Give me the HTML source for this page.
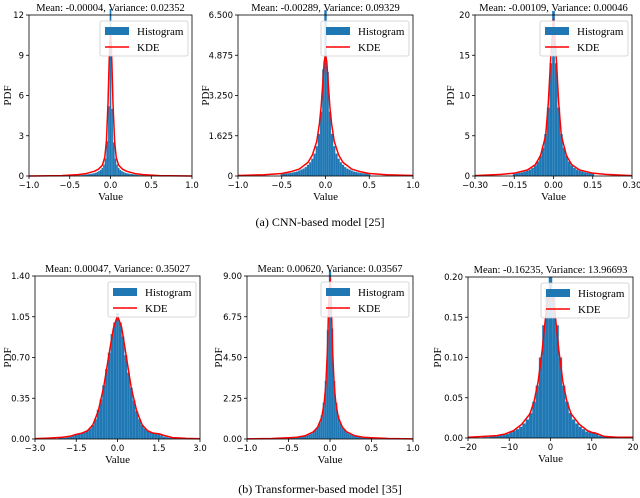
<!DOCTYPE html>
<html><head><meta charset="utf-8">
<style>
html,body{margin:0;padding:0;background:#fff;}
svg{display:block;}
text{font-family:"DejaVu Sans",sans-serif;}
.serif{font-family:"Liberation Serif",serif;}
</style></head>
<body>
<svg id="fig" width="640" height="498" viewBox="0 0 640 498" xmlns="http://www.w3.org/2000/svg">
<text class="serif" x="320" y="226" text-anchor="middle" font-size="12">(a)  CNN-based model [25]</text>
<text class="serif" x="320" y="493" text-anchor="middle" font-size="12">(b)  Transformer-based model [35]</text>
</svg>
<script>
// ---- Panel A1 (CNN, top-left) ----
const a1HistX=[-0.4,-0.38,-0.36,-0.34,-0.32,-0.3,-0.28,-0.26,-0.24,-0.22,-0.2,-0.18,-0.16,-0.14,-0.12,-0.1,-0.08,-0.06,-0.04,-0.02,0,0.02,0.04,0.06,0.08,0.1,0.12,0.14,0.16,0.18,0.2,0.22,0.24,0.26,0.28,0.3,0.32,0.34,0.36,0.38,0.4];
const a1HistY=[0.05,0.05,0.06,0.07,0.08,0.1,0.12,0.14,0.16,0.18,0.2,0.24,0.3,0.36,0.45,0.6,0.85,1.3,2.6,5.2,13,5.0,2.5,1.3,0.85,0.6,0.45,0.36,0.3,0.24,0.2,0.18,0.16,0.14,0.12,0.1,0.08,0.07,0.06,0.05,0.05];
const a1KdeX=[-1,-0.6,-0.4,-0.3,-0.2,-0.15,-0.1,-0.07,-0.05,-0.03,-0.02,-0.01,0,0.01,0.02,0.03,0.05,0.07,0.1,0.15,0.2,0.3,0.4,0.6,1];
const a1KdeY=[0,0.03,0.1,0.18,0.35,0.5,0.8,1.4,2.6,5.5,7.8,9.8,10.6,9.8,7.8,5.5,2.6,1.4,0.8,0.5,0.35,0.18,0.1,0.03,0];
const a1XTicks=["−1.0","−0.5","0.0","0.5","1.0"];
const a1YTicks=["0","3","6","9","12"];
// ---- Panel A2 (CNN, top-middle) ----
const a2HistX=[-0.5,-0.475,-0.45,-0.425,-0.4,-0.375,-0.35,-0.325,-0.3,-0.275,-0.25,-0.225,-0.2,-0.175,-0.15,-0.125,-0.1,-0.075,-0.05,-0.025,0,0.025,0.05,0.075,0.1,0.125,0.15,0.175,0.2,0.225,0.25,0.275,0.3,0.325,0.35,0.375,0.4,0.425,0.45,0.475,0.5];
const a2HistY=[0.08,0.09,0.1,0.11,0.12,0.14,0.16,0.18,0.22,0.26,0.3,0.36,0.45,0.55,0.7,0.9,1.2,1.7,2.6,4.3,6.7,4.2,2.6,1.7,1.2,0.9,0.7,0.55,0.45,0.36,0.3,0.26,0.22,0.18,0.16,0.14,0.12,0.11,0.1,0.09,0.08];
const a2KdeX=[-1,-0.7,-0.5,-0.4,-0.3,-0.2,-0.15,-0.1,-0.07,-0.05,-0.03,-0.015,0,0.015,0.03,0.05,0.07,0.1,0.15,0.2,0.3,0.4,0.5,0.7,1];
const a2KdeY=[0.02,0.05,0.1,0.17,0.28,0.55,0.85,1.4,2.1,2.8,3.8,4.6,4.9,4.6,3.8,2.8,2.1,1.4,0.85,0.55,0.28,0.17,0.1,0.05,0.02];
const a2XTicks=["−1.0","−0.5","0.0","0.5","1.0"];
const a2YTicks=["0","1.625","3.250","4.875","6.500"];
// ---- Panel A3 (CNN, top-right) ----
const a3HistX=[-0.15,-0.14,-0.13,-0.12,-0.11,-0.1,-0.09,-0.08,-0.07,-0.06,-0.05,-0.04,-0.03,-0.02,-0.01,0,0.01,0.02,0.03,0.04,0.05,0.06,0.07,0.08,0.09,0.1,0.11,0.12,0.13,0.14,0.15];
const a3HistY=[0.3,0.35,0.4,0.45,0.55,0.65,0.8,1.0,1.3,1.8,2.5,3.5,5.2,8.5,14,20.5,14,8.5,5.2,3.5,2.5,1.8,1.3,1.0,0.8,0.65,0.55,0.45,0.4,0.35,0.3];
const a3KdeX=[-0.3,-0.25,-0.2,-0.15,-0.1,-0.07,-0.05,-0.03,-0.02,-0.01,0,0.01,0.02,0.03,0.05,0.07,0.1,0.15,0.2,0.25,0.3];
const a3KdeY=[0.05,0.12,0.2,0.35,0.75,1.4,2.5,5,9,15,19.5,15,9,5,2.5,1.4,0.75,0.35,0.2,0.12,0.05];
const a3XTicks=["−0.30","−0.15","0.00","0.15","0.30"];
const a3YTicks=["0","5","10","15","20"];
// ---- Panel B1 (Transformer, bottom-left) ----
const b1HistX=[-2.1,-2,-1.9,-1.8,-1.7,-1.6,-1.5,-1.4,-1.3,-1.2,-1.1,-1,-0.9,-0.8,-0.7,-0.6,-0.5,-0.4,-0.3,-0.2,-0.1,0,0.1,0.2,0.3,0.4,0.5,0.6,0.7,0.8,0.9,1,1.1,1.2,1.3,1.4,1.5,1.6,1.7,1.8,1.9,2,2.1];
const b1HistY=[0.01,0.02,0.01,0.015,0.02,0.03,0.04,0.045,0.05,0.06,0.07,0.09,0.12,0.17,0.25,0.34,0.46,0.6,0.74,0.9,1.0,1.08,1.0,0.88,0.72,0.57,0.44,0.33,0.24,0.17,0.12,0.09,0.07,0.06,0.05,0.045,0.04,0.03,0.02,0.015,0.01,0.01,0.005];
const b1KdeX=[-3,-2.5,-2,-1.7,-1.5,-1.3,-1.1,-0.9,-0.7,-0.5,-0.3,-0.15,0,0.15,0.3,0.5,0.7,0.9,1.1,1.3,1.5,1.7,2,2.5,3];
const b1KdeY=[0.003,0.008,0.015,0.025,0.04,0.05,0.07,0.12,0.24,0.45,0.74,0.95,1.06,0.96,0.74,0.44,0.24,0.12,0.07,0.05,0.045,0.03,0.012,0.005,0.002];
const b1XTicks=["−3.0","−1.5","0.0","1.5","3.0"];
const b1YTicks=["0.00","0.35","0.70","1.05","1.40"];
// ---- Panel B2 (Transformer, bottom-middle) ----
const b2HistX=[-0.5,-0.475,-0.45,-0.425,-0.4,-0.375,-0.35,-0.325,-0.3,-0.275,-0.25,-0.225,-0.2,-0.175,-0.15,-0.125,-0.1,-0.075,-0.05,-0.025,0,0.025,0.05,0.075,0.1,0.125,0.15,0.175,0.2,0.225,0.25,0.275,0.3,0.325,0.35,0.375,0.4,0.425,0.45,0.475,0.5];
const b2HistY=[0.05,0.06,0.07,0.08,0.09,0.1,0.12,0.14,0.17,0.2,0.25,0.3,0.38,0.5,0.65,0.9,1.3,2.0,3.2,6.0,9.3,6.1,3.2,2.0,1.3,0.9,0.65,0.5,0.38,0.3,0.25,0.2,0.17,0.14,0.12,0.1,0.09,0.08,0.07,0.06,0.05];
const b2KdeX=[-1,-0.7,-0.5,-0.4,-0.3,-0.2,-0.15,-0.1,-0.07,-0.05,-0.03,-0.015,0,0.015,0.03,0.05,0.07,0.1,0.15,0.2,0.3,0.4,0.5,0.7,1];
const b2KdeY=[0.01,0.03,0.07,0.1,0.18,0.4,0.65,1.2,2.0,3.0,5.0,7.6,8.9,7.6,5.0,3.0,2.0,1.2,0.65,0.4,0.18,0.1,0.07,0.03,0.01];
const b2XTicks=["−1.0","−0.5","0.0","0.5","1.0"];
const b2YTicks=["0.00","2.25","4.50","6.75","9.00"];
// ---- Panel B3 (Transformer, bottom-right) ----
const b3HistX=[-16,-15.2,-14.4,-13.6,-12.8,-12,-11.2,-10.4,-9.6,-8.8,-8,-7.2,-6.4,-5.6,-4.8,-4,-3.2,-2.4,-1.6,-0.8,0,0.8,1.6,2.4,3.2,4,4.8,5.6,6.4,7.2,8,8.8,9.6,10.4,11.2,12,12.8,13.6,14.4,15.2,16];
const b3HistY=[0.001,0.001,0.002,0.002,0.003,0.004,0.004,0.005,0.007,0.009,0.011,0.014,0.018,0.023,0.031,0.045,0.065,0.1,0.14,0.18,0.2,0.18,0.14,0.1,0.065,0.045,0.031,0.023,0.018,0.014,0.011,0.008,0.007,0.007,0.006,0.003,0.002,0.002,0.001,0.001,0.001];
const b3KdeX=[-20,-16,-13,-11,-9,-7,-5,-4,-3,-2,-1,0,1,2,3,4,5,7,9,10,11,13,16,20];
const b3KdeY=[0.001,0.002,0.003,0.005,0.009,0.017,0.03,0.045,0.07,0.11,0.16,0.185,0.16,0.11,0.07,0.045,0.03,0.017,0.009,0.007,0.006,0.002,0.001,0.001];
const b3XTicks=["−20","−10","0","10","20"];
const b3YTicks=["0.00","0.05","0.10","0.15","0.20"];

const NS="http://www.w3.org/2000/svg";
const svg=document.getElementById('fig');
function mk(tag,attrs,parent){const e=document.createElementNS(NS,tag);for(const k in attrs)e.setAttribute(k,attrs[k]);(parent||svg).appendChild(e);return e;}

const panels=[
 {id:'a1',box:[29,192,15,176],xr:[-1,1],yr:[0,12],bw:0.02,hx:a1HistX,hy:a1HistY,kx:a1KdeX,ky:a1KdeY,xt:a1XTicks,yt:a1YTicks,title:'Mean: -0.00004, Variance: 0.02352',ylx:7},
 {id:'a2',box:[238,413,15,176],xr:[-1,1],yr:[0,6.5],bw:0.025,hx:a2HistX,hy:a2HistY,kx:a2KdeX,ky:a2KdeY,xt:a2XTicks,yt:a2YTicks,title:'Mean: -0.00289, Variance: 0.09329',ylx:205},
 {id:'a3',box:[475,632,15,176],xr:[-0.3,0.3],yr:[0,20],bw:0.01,hx:a3HistX,hy:a3HistY,kx:a3KdeX,ky:a3KdeY,xt:a3XTicks,yt:a3YTicks,title:'Mean: -0.00109, Variance: 0.00046',ylx:450},
 {id:'b1',box:[35,200,276,439],xr:[-3,3],yr:[0,1.4],bw:0.1,hx:b1HistX,hy:b1HistY,kx:b1KdeX,ky:b1KdeY,xt:b1XTicks,yt:b1YTicks,title:'Mean: 0.00047, Variance: 0.35027',ylx:7},
 {id:'b2',box:[247,413,276,439],xr:[-1,1],yr:[0,9],bw:0.025,hx:b2HistX,hy:b2HistY,kx:b2KdeX,ky:b2KdeY,xt:b2XTicks,yt:b2YTicks,title:'Mean: 0.00620, Variance: 0.03567',ylx:218},
 {id:'b3',box:[468,633,277,438],xr:[-20,20],yr:[0,0.2],bw:0.8,hx:b3HistX,hy:b3HistY,kx:b3KdeX,ky:b3KdeY,xt:b3XTicks,yt:b3YTicks,title:'Mean: -0.16235, Variance: 13.96693',ylx:437}
];

panels.forEach(p=>{
 const [L,R,T,B]=p.box;
 const sx=v=>L+(v-p.xr[0])/(p.xr[1]-p.xr[0])*(R-L);
 const sy=v=>B-(v-p.yr[0])/(p.yr[1]-p.yr[0])*(B-T);
 const g=mk('g',{});
 
 
 const clipId='clip-'+p.id;
 const cp=mk('clipPath',{id:clipId},g);
 mk('rect',{x:L,y:T-6,width:R-L,height:B-T+6},cp);
 const bars=mk('g',{'clip-path':'url(#'+clipId+')'},g);
 p.hx.forEach((c,i)=>{
  const x0=sx(c-p.bw/2),x1=sx(c+p.bw/2);
  const y=sy(p.hy[i]);
  const r=mk('rect',{x:x0,y:Math.max(y,T-6),width:Math.max(x1-x0,0.3),height:B-Math.max(y,T-6),fill:'#1f77b4',stroke:'#5aa0d0','stroke-width':0.2},bars);
  
  
 });
 const pts=p.kx.map((x,i)=>sx(x).toFixed(2)+','+sy(p.ky[i]).toFixed(2)).join(' ');
 const line=mk('polyline',{points:pts,fill:'none',stroke:'#ff0000','stroke-width':1.5,'stroke-linejoin':'round'},g);
 
 
 const frame=mk('rect',{x:L,y:T,width:R-L,height:B-T,fill:'none',stroke:'#000','stroke-width':0.8},g);
 
 
 p.xt.forEach((t,i)=>{
  const x=L+i*(R-L)/(p.xt.length-1);
  mk('line',{x1:x,x2:x,y1:B,y2:B+3,stroke:'#000','stroke-width':0.8},g);
  const tx=mk('text',{x:x,y:B+12,'text-anchor':'middle','font-size':8.5},g);
  tx.textContent=t;
  
  
 });
 p.yt.forEach((t,i)=>{
  const y=B-i*(B-T)/(p.yt.length-1);
  mk('line',{x1:L-3,x2:L,y1:y,y2:y,stroke:'#000','stroke-width':0.8},g);
  const tx=mk('text',{x:L-5,y:y+3,'text-anchor':'end','font-size':8.5},g);
  tx.textContent=t;
  
  
 });
 const ti=mk('text',{x:(L+R)/2,y:T-4,'text-anchor':'middle','font-size':10.5,class:'serif'},g);
 ti.textContent=p.title;
 
 
 const xl=mk('text',{x:(L+R)/2,y:B+24,'text-anchor':'middle','font-size':11,class:'serif'},g);
 xl.textContent='Value';
 
 
 const yc=(T+B)/2;
 const yl=mk('text',{x:p.ylx+4,y:yc,'text-anchor':'middle','font-size':11,class:'serif',transform:'rotate(-90 '+(p.ylx+4)+' '+yc+')'},g);
 yl.textContent='PDF';
 
 
 const lg=mk('g',{},g);
 
 
 const lx=R-92,ly=T+6;
 mk('rect',{x:lx,y:ly,width:88,height:35,rx:2,fill:'#fff','fill-opacity':0.85,stroke:'#ccc','stroke-width':0.8},lg);
 mk('rect',{x:lx+5,y:ly+6,width:24,height:8,fill:'#1f77b4'},lg);
 const t1=mk('text',{x:lx+37,y:ly+14,'font-size':11,class:'serif'},lg);
 t1.textContent='Histogram';
 
 
 mk('line',{x1:lx+5,x2:lx+29,y1:ly+26,y2:ly+26,stroke:'#ff0000','stroke-width':1.5},lg);
 const t2=mk('text',{x:lx+37,y:ly+30,'font-size':11,class:'serif'},lg);
 t2.textContent='KDE';
 
 
});
</script>
</body></html>
